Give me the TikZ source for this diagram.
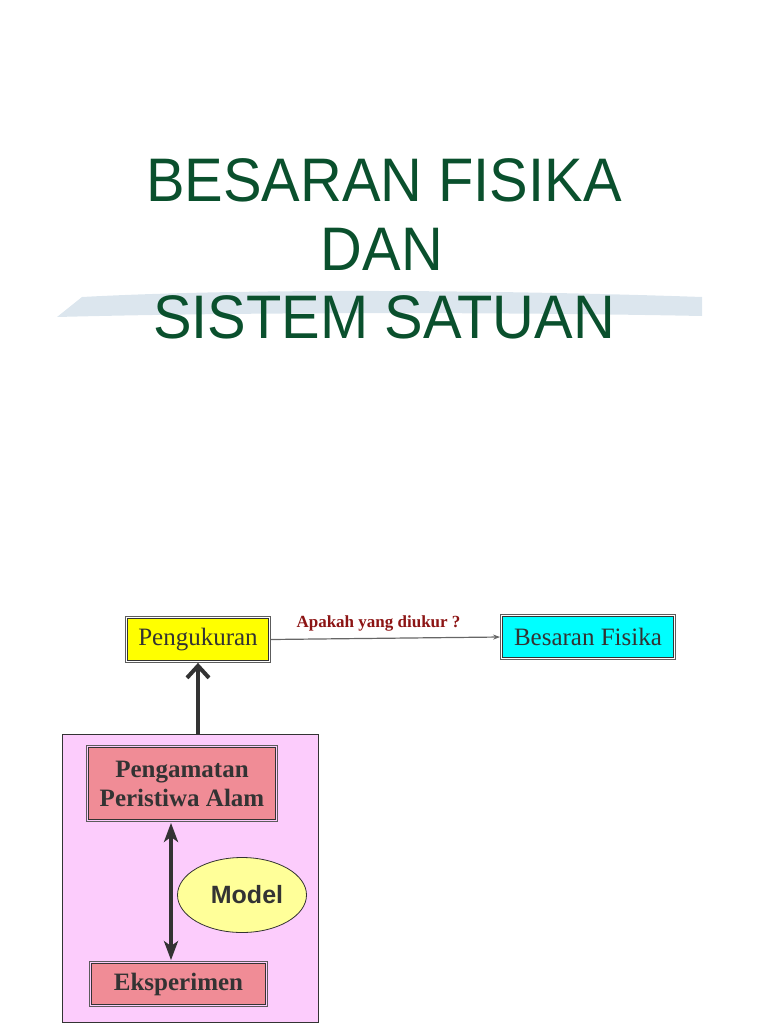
\documentclass[tikz,border=0pt]{standalone}
\usepackage{fontspec}
\setmainfont{Liberation Serif}
\newfontfamily\judulfont[FakeStretch=0.94]{Liberation Sans}
\newfontfamily\modelfont{Liberation Sans}
\usepackage{xcolor}
\usepackage{tikz}
\usetikzlibrary{positioning,arrows.meta,shapes.geometric}

\definecolor{hijau}{RGB}{10,80,45}
\definecolor{biru}{RGB}{220,230,238}
\definecolor{kuning}{RGB}{255,255,0}
\definecolor{kuningmuda}{RGB}{255,255,153}
\definecolor{sian}{RGB}{0,255,255}
\definecolor{merahmuda}{RGB}{240,140,150}
\definecolor{ungu}{RGB}{252,204,252}
\definecolor{teks}{RGB}{51,51,51}
\definecolor{merahtua}{RGB}{140,20,20}

\begin{document}
\begin{tikzpicture}[
    x=1pt,y=-1pt,
    judul/.style={font=\judulfont\fontsize{61.5}{70}\selectfont,text=hijau,anchor=base,inner sep=0pt},
    box/.style={draw=teks,line width=0.8pt,align=center,text=teks,inner sep=0pt,font=\fontsize{25}{29}\selectfont},
    bingkai/.style={draw=teks!80,line width=0.8pt},
    tebal/.style={line width=4pt,draw=teks,-{Straight Barb[length=12pt,width=22pt]}},
    dua/.style={line width=3.5pt,draw=teks,shorten <=3pt,shorten >=3pt,{Stealth[length=19pt,width=14pt,inset=5pt]}-{Stealth[length=19pt,width=14pt,inset=5pt]}},
    tipis/.style={line width=1.2pt,draw=black!60,-{Stealth[length=7pt,width=5pt]}},
    tanya/.style={font=\bfseries\fontsize{17}{20}\selectfont,text=merahtua,inner sep=1pt}
  ]
    \useasboundingbox (0,0) rectangle (768,1024);
    \fill[biru] (57,317) -- (82,297) .. controls (250,288) and (500,290) .. (702,297)
      -- (702,316) .. controls (500,312) and (250,312) .. (57,317) -- cycle;
    \node[judul] (judulA) at (384,202) {BESARAN FISIKA};
    \node[judul] (judulB) at (382,270) {DAN};
    \node[judul] (judulC) at (384,338) {SISTEM SATUAN};

    \node[box,fill=kuning,minimum width=141,minimum height=42] (ukur) at (198,639.5) {Pengukuran};
    \node[box,fill=sian,minimum width=171,minimum height=41] (besaran) at (588,637) {Besaran Fisika};
    \draw[tipis] ([xshift=2pt]ukur.east) -- node[tanya,above=5pt,xshift=-7pt] (tanyaA) {Apakah yang diukur ?} ([xshift=-2pt]besaran.west);

    \node[draw=teks,fill=ungu,line width=0.8pt,minimum width=256,minimum height=288] (wadah) at (190,878) {};
    \draw[tebal] (ukur.south |- wadah.north) -- ([yshift=-2pt]ukur.south);

    \node[box,fill=merahmuda,font=\bfseries\fontsize{25}{29}\selectfont,minimum width=187,minimum height=72] (amat) at (182,783.5) {Pengamatan\\Peristiwa Alam};
    \node[box,fill=merahmuda,font=\bfseries\fontsize{25}{29}\selectfont,minimum width=174,minimum height=41] (eksp) at (178.5,984) {Eksperimen};
    \foreach \n in {ukur,besaran,amat,eksp}
      \draw[bingkai] ([shift={(-1.6pt,-1.6pt)}]\n.south west) rectangle ([shift={(1.6pt,1.6pt)}]\n.north east);
    \node[ellipse,draw=teks,fill=kuningmuda,line width=0.8pt,text=teks,font=\modelfont\bfseries\fontsize{25}{29}\selectfont,minimum width=129,minimum height=75] (model) at (242,895) {\hspace*{10pt}Model};
    \draw[dua] ([xshift=-11pt]amat.south) -- ([xshift=-11pt]amat.south |- eksp.north);
  \end{tikzpicture}
\end{document}
